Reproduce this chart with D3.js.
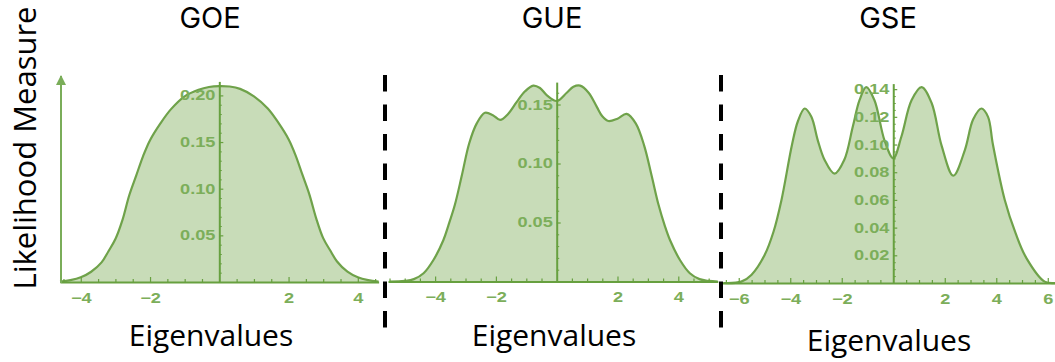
<!DOCTYPE html>
<html>
<head>
<meta charset="utf-8">
<script src="https://cdn.jsdelivr.net/npm/d3@7"></script>
<style>
  html, body { margin: 0; padding: 0; background: #fff; }
  svg { display: block; }
  .tick text { font-family: "Liberation Sans", Arial, sans-serif; font-weight: bold; }
</style>
</head>
<body>
<svg id="chart" width="1055" height="362"></svg>
<script>
// ---------- data ----------
const titles = ["GOE", "GUE", "GSE"];
const xAxisTitle = "Eigenvalues";
const yAxisTitle = "Likelihood Measure";

const goeX = [-4.6, -4.3, -4.0, -3.7, -3.4, -3.2, -3.0, -2.8, -2.6, -2.4, -2.2, -2.0, -1.7, -1.4, -1.0, -0.6, -0.3, 0, 0.3, 0.6, 1.0, 1.4, 1.7, 2.0, 2.2, 2.4, 2.6, 2.8, 3.0, 3.2, 3.4, 3.7, 4.0, 4.3, 4.6];
const goeY = [0.0005, 0.002, 0.005, 0.011, 0.021, 0.033, 0.046, 0.066, 0.093, 0.114, 0.135, 0.152, 0.170, 0.185, 0.199, 0.206, 0.209, 0.210, 0.2095, 0.207, 0.199, 0.186, 0.171, 0.153, 0.136, 0.115, 0.094, 0.068, 0.047, 0.034, 0.022, 0.011, 0.005, 0.002, 0.0005];

const gueX = [-5.5, -5.0, -4.7, -4.38, -4.06, -3.73, -3.57, -3.35, -3.12, -2.88, -2.63, -2.36, -2.1, -1.86, -1.6, -1.32, -1.05, -0.77, -0.55, -0.33, 0, 0.33, 0.55, 0.77, 1.05, 1.32, 1.5, 1.7, 2.0, 2.3, 2.6, 2.88, 3.12, 3.35, 3.56, 3.73, 4.06, 4.38, 4.7, 5.0, 5.3];
const gueY = [0, 0.0005, 0.002, 0.007, 0.018, 0.035, 0.047, 0.065, 0.09, 0.117, 0.134, 0.143, 0.141, 0.137, 0.142, 0.152, 0.161, 0.166, 0.164, 0.158, 0.153, 0.160, 0.165, 0.166, 0.160, 0.148, 0.140, 0.136, 0.138, 0.142, 0.134, 0.115, 0.09, 0.065, 0.047, 0.035, 0.018, 0.007, 0.002, 0.0005, 0];

const gseX = [-6.6, -5.9, -5.5, -5.0, -4.65, -4.34, -3.93, -3.7, -3.44, -3.18, -2.93, -2.67, -2.28, -1.9, -1.57, -1.31, -1.05, -0.73, -0.34, 0, 0.32, 0.71, 1.1, 1.49, 1.88, 2.33, 2.78, 3.1, 3.42, 3.68, 3.87, 4.33, 4.75, 5.17, 5.88, 6.3];
const gseY = [0, 0.001, 0.006, 0.02, 0.037, 0.06, 0.10, 0.117, 0.126, 0.120, 0.103, 0.089, 0.079, 0.089, 0.113, 0.132, 0.1415, 0.132, 0.103, 0.090, 0.106, 0.132, 0.1415, 0.130, 0.099, 0.0775, 0.096, 0.118, 0.126, 0.120, 0.10, 0.06, 0.036, 0.018, 0.001, 0];

const goeXTicks = [-4, -2, 2, 4];
const gueXTicks = [-4, -2, 2, 4];
const gseXTicks = [-6, -4, -2, 2, 4, 6];
const goeYTicks = [0.05, 0.10, 0.15, 0.20];
const gueYTicks = [0.05, 0.10, 0.15];
const gseYTicks = [0.02, 0.04, 0.06, 0.08, 0.10, 0.12, 0.14];

// ---------- layout ----------
const panels = [
  { title: titles[0], xs: goeX, ys: goeY, xTicks: goeXTicks, yTicks: goeYTicks,
    xDom: [-4.6, 4.6], xRange: [60, 378.6], yDom: [0, 0.215], yRange: [282, 81.4],
    yMinor: 0.01, titleX: 210, labelX: 211, labelY: 346 },
  { title: titles[1], xs: gueX, ys: gueY, xTicks: gueXTicks, yTicks: gueYTicks,
    xDom: [-5.55, 5.3], xRange: [388, 717.8], yDom: [0, 0.169], yRange: [281.5, 82.1],
    yMinor: 0.01, titleX: 552, labelX: 554, labelY: 346 },
  { title: titles[2], xs: gseX, ys: gseY, xTicks: gseXTicks, yTicks: gseYTicks,
    xDom: [-6.65, 6.3], xRange: [722, 1055.5], yDom: [0, 0.144], yRange: [283, 83.6],
    yMinor: 0.005, titleX: 888, labelX: 889, labelY: 351 }
];

const strokeCol = "#6fa24a";
const fillCol = "#c8dcb8";
const axisCol = "#67a03f";
const labelCol = "#7cae5a";

const svg = d3.select("#chart");

panels.forEach(p => {
  const x = d3.scaleLinear().domain(p.xDom).range(p.xRange);
  const y = d3.scaleLinear().domain(p.yDom).range(p.yRange);
  const pts = p.xs.map((v, i) => [v, p.ys[i]]);
  const g = svg.append("g");

  const area = d3.area().x(d => x(d[0])).y0(y(0)).y1(d => y(d[1])).curve(d3.curveCatmullRom.alpha(0.5));
  const line = d3.line().x(d => x(d[0])).y(d => y(d[1])).curve(d3.curveCatmullRom.alpha(0.5));

  g.append("path").datum(pts).attr("d", area).attr("fill", fillCol);
  g.append("path").datum(pts).attr("d", line).attr("fill", "none")
    .attr("stroke", strokeCol).attr("stroke-width", 2.2);

  // x axis minor ticks
  const minorX = d3.range(Math.ceil(p.xDom[0] * 2) / 2, p.xDom[1], 0.5).filter(v => Math.abs(v) > 1e-9 && !p.xTicks.includes(v));
  const xMinorAxis = d3.axisBottom(x).tickValues(minorX).tickSize(-3).tickSizeOuter(0).tickFormat("");
  const gxm = g.append("g").attr("transform", `translate(0,${y(0)})`).call(xMinorAxis);
  gxm.select(".domain").remove();
  gxm.selectAll("line").attr("stroke", axisCol).attr("stroke-width", 1.2);

  // x axis major
  const xAxis = d3.axisBottom(x).tickValues(p.xTicks).tickSize(-5).tickSizeOuter(0).tickPadding(11);
  const gx = g.append("g").attr("transform", `translate(0,${y(0)})`).call(xAxis);
  gx.select(".domain").attr("stroke", axisCol).attr("stroke-width", 2);
  gx.selectAll("line").attr("stroke", axisCol).attr("stroke-width", 1.2);
  gx.selectAll("text").attr("fill", labelCol).style("font-size", "14px")
    .attr("transform", "scale(1.3,1)");

  // y axis minor ticks
  const minorY = d3.range(p.yMinor, p.yDom[1], p.yMinor).filter(v => !p.yTicks.some(t => Math.abs(t - v) < 1e-6));
  const yMinorAxis = d3.axisLeft(y).tickValues(minorY).tickSize(-2.5).tickSizeOuter(0).tickFormat("");
  const gym = g.append("g").attr("transform", `translate(${x(0)},0)`).call(yMinorAxis);
  gym.select(".domain").remove();
  gym.selectAll("line").attr("stroke", axisCol).attr("stroke-width", 1);

  // y axis major
  const yAxis = d3.axisLeft(y).tickValues(p.yTicks).tickSize(-4).tickSizeOuter(0).tickPadding(3).tickFormat(d3.format(".2f"));
  const gy = g.append("g").attr("transform", `translate(${x(0)},0)`).call(yAxis);
  gy.select(".domain").attr("stroke", axisCol).attr("stroke-width", 2);
  gy.selectAll("line").attr("stroke", axisCol).attr("stroke-width", 1.2);
  gy.selectAll("text").attr("fill", labelCol).style("font-size", "14px")
    .attr("transform", "scale(1.3,1)");

  // title & x label
  svg.append("text").attr("x", p.titleX).attr("y", 28).attr("text-anchor", "middle")
    .style("font-family", "Inter, 'Open Sans', sans-serif").style("font-size", "29px").attr("fill", "#000")
    .text(p.title);
  svg.append("text").attr("x", p.labelX).attr("y", p.labelY).attr("text-anchor", "middle")
    .style("font-family", "'Open Sans', sans-serif").style("font-size", "30px").attr("fill", "#000")
    .text(xAxisTitle);
});

// left arrow axis of the first panel
const defs = svg.append("defs");
defs.append("marker").attr("id", "arrow").attr("viewBox", "0 0 10 10").attr("refX", 9).attr("refY", 5)
  .attr("markerWidth", 6).attr("markerHeight", 5).attr("markerUnits", "strokeWidth").attr("orient", "auto")
  .append("path").attr("d", "M0,0 L10,5 L0,10 Z").attr("fill", "#7aad59");
svg.append("line").attr("x1", 61).attr("y1", 283).attr("x2", 61).attr("y2", 76)
  .attr("stroke", "#7aad59").attr("stroke-width", 2).attr("marker-end", "url(#arrow)");

// y axis title
svg.append("text").attr("transform", "translate(36,148) rotate(-90)").attr("text-anchor", "middle")
  .style("font-family", "'Open Sans', sans-serif").style("font-size", "31px").attr("fill", "#000")
  .text(yAxisTitle);

// dashed separators
[385, 721].forEach(xx => {
  svg.append("line").attr("x1", xx).attr("x2", xx).attr("y1", 75).attr("y2", 328)
    .attr("stroke", "#000").attr("stroke-width", 4).attr("stroke-dasharray", "16.5 13");
});
</script>
</body>
</html>
